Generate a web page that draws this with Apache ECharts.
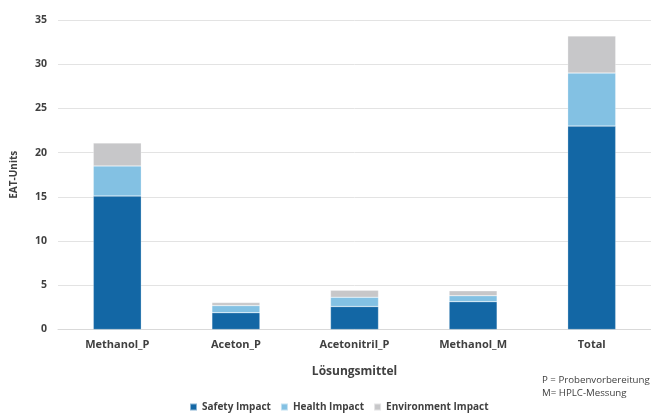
<!DOCTYPE html>
<html>
<head>
<meta charset="utf-8">
<script src="https://cdn.jsdelivr.net/npm/echarts@6/dist/echarts.min.js"></script>
<style>
  html, body { margin: 0; padding: 0; background: #fff; }
  #chart { width: 651px; height: 414px; }
</style>
</head>
<body>
<div id="chart"></div>
<script>
// Solvents and their EAT impact components
const categories = ['Methanol_P', 'Aceton_P', 'Acetonitril_P', 'Methanol_M', 'Total'];
const safetyImpact = [15.1, 1.9, 2.6, 3.15, 23.0];
const healthImpact = [3.4, 0.8, 1.05, 0.67, 6.0];
const environmentImpact = [2.6, 0.35, 0.8, 0.55, 4.2];
const yTicks = { min: 0, max: 35, interval: 5 };

const textColor = '#404040';
const fontFamily = '"Open Sans", "Noto Sans", sans-serif';

const chart = echarts.init(document.getElementById('chart'), null, { renderer: 'canvas' });

function barSeries(name, data, color) {
  return {
    name: name,
    type: 'bar',
    stack: 'eat',
    data: data,
    barWidth: 48,
    itemStyle: { color: color, borderColor: 'rgba(255,255,255,0.5)', borderWidth: 0.5 },
    emphasis: { disabled: true }
  };
}

chart.setOption({
  animation: false,
  textStyle: { fontFamily: fontFamily },
  grid: { left: 58, right: -12, top: 20, bottom: 84.5, containLabel: false },
  xAxis: {
    type: 'category',
    data: categories,
    name: 'Lösungsmittel',
    nameLocation: 'middle',
    nameGap: 36,
    nameTextStyle: { color: textColor, fontWeight: 'bold', fontSize: 12, fontFamily: fontFamily },
    axisLine: { show: true, lineStyle: { color: '#d9d9d9', width: 1 } },
    axisTick: { show: false },
    axisLabel: { color: textColor, fontWeight: 'bold', fontSize: 11, margin: 10, fontFamily: fontFamily }
  },
  yAxis: {
    type: 'value',
    min: yTicks.min,
    max: yTicks.max,
    interval: yTicks.interval,
    name: 'EAT-Units',
    nameLocation: 'middle',
    nameGap: 39,
    nameRotate: 90,
    nameTextStyle: { color: textColor, fontWeight: 'bold', fontSize: 10, fontFamily: fontFamily },
    axisLine: { show: false },
    axisTick: { show: false },
    axisLabel: { color: textColor, fontWeight: 'bold', fontSize: 10.5, margin: 11, fontFamily: fontFamily },
    splitLine: { lineStyle: { color: '#e3e3e3', width: 1 } }
  },
  legend: {
    top: 402,
    left: 189,
    padding: 0,
    itemWidth: 7,
    itemHeight: 7,
    itemGap: 9,
    icon: 'rect',
    textStyle: { color: textColor, fontWeight: 'bold', fontSize: 10, fontFamily: fontFamily },
    data: ['Safety Impact', 'Health Impact', 'Environment Impact']
  },
  graphic: [
    {
      type: 'text',
      left: 542,
      top: 373.5,
      style: {
        text: 'P = Probenvorbereitung\nM= HPLC-Messung',
        fill: textColor,
        font: '9.7px ' + fontFamily,
        lineHeight: 13
      }
    }
  ],
  series: [
    barSeries('Safety Impact', safetyImpact, '#1367a5'),
    barSeries('Health Impact', healthImpact, '#83c1e3'),
    barSeries('Environment Impact', environmentImpact, '#c7c7c9')
  ]
});
</script>
</body>
</html>
